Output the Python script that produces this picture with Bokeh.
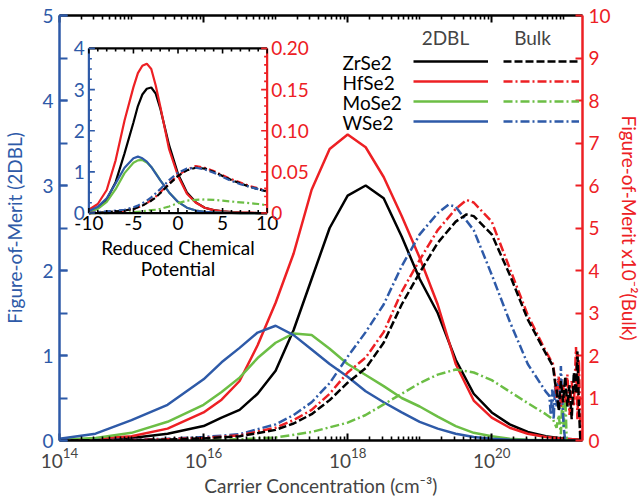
import math
from bokeh.plotting import figure
from bokeh.models import (Range1d, LinearAxis, LogAxis, FixedTicker, SingleIntervalTicker,
                          Legend, LegendItem, Label, LinearScale)
from bokeh.core.properties import value
from bokeh.embed import file_html
from bokeh.resources import INLINE

# ---------------- data: main panel (x = log10 carrier concentration, cm^-3) ----------------
# 2DBL (left axis)
logn_2d = [14.0, 14.5, 15.0, 15.5, 16.0, 16.25, 16.5, 16.75, 17.0, 17.25, 17.5, 17.75,
           18.0, 18.25, 18.5, 18.75, 19.0, 19.25, 19.5, 19.75, 20.0, 20.25, 20.5, 20.75,
           21.0, 21.25]
zrse2_2d = [0.0, 0.01, 0.03, 0.08, 0.17, 0.27, 0.36, 0.55, 0.82, 1.3, 1.9, 2.5,
            2.88, 3.0, 2.85, 2.4, 1.9, 1.5, 0.95, 0.55, 0.33, 0.19, 0.1, 0.05, 0.02, 0.01]
hfse2_2d = [0.0, 0.02, 0.05, 0.14, 0.33, 0.48, 0.70, 1.12, 1.62, 2.2, 2.95, 3.43,
            3.6, 3.45, 3.1, 2.64, 2.15, 1.6, 0.9, 0.47, 0.27, 0.15, 0.08, 0.04, 0.02, 0.01]
mose2_2d = [0.01, 0.03, 0.09, 0.22, 0.42, 0.57, 0.74, 0.97, 1.15, 1.26, 1.24, 1.08,
            0.9, 0.77, 0.64, 0.5, 0.4, 0.28, 0.17, 0.09, 0.05, 0.02, 0.01, 0.005, 0.002, 0.0]
wse2_2d = [0.02, 0.08, 0.24, 0.42, 0.72, 0.92, 1.09, 1.27, 1.35, 1.24, 1.07, 0.9,
           0.75, 0.58, 0.45, 0.33, 0.22, 0.14, 0.08, 0.04, 0.02, 0.01, 0.005, 0.002, 0.001, 0.0]

# Bulk (right axis, x10^-2)
zrse2_bulk_logn = [14.0, 14.5, 15.0, 15.5, 16.0, 16.5, 17.0, 17.25, 17.5, 17.75, 18.0, 18.25,
                   18.5, 18.75, 19.0, 19.25, 19.5, 19.65, 19.75, 20.0, 20.25, 20.5, 20.75,
                   20.85, 20.88, 20.9, 20.93, 20.96, 20.99, 21.02, 21.05, 21.08, 21.11,
                   21.14, 21.17, 21.19, 21.21, 21.23]
zrse2_bulk = [0.0, 0.005, 0.01, 0.02, 0.05, 0.1, 0.25, 0.4, 0.62, 0.95, 1.36, 1.7,
              2.3, 3.2, 3.95, 4.65, 5.15, 5.32, 5.28, 4.85, 3.9, 2.85, 2.05,
              1.75, 1.35, 1.2, 0.7, 1.4, 0.9, 1.5, 0.8, 1.3, 0.5,
              1.6, 1.1, 2.1, 0.8, 0.0]
hfse2_bulk_logn = [14.0, 14.5, 15.0, 15.5, 16.0, 16.5, 17.0, 17.25, 17.5, 17.75, 18.0, 18.25,
                   18.5, 18.75, 19.0, 19.25, 19.5, 19.65, 19.75, 20.0, 20.25, 20.5, 20.75,
                   20.85, 20.88, 20.9, 20.93, 20.96, 20.99, 21.02, 21.05, 21.08, 21.11,
                   21.14, 21.17, 21.19, 21.21, 21.23, 21.24]
hfse2_bulk = [0.0, 0.005, 0.01, 0.03, 0.06, 0.12, 0.3, 0.48, 0.72, 1.1, 1.6, 1.95,
              2.55, 3.5, 4.25, 4.95, 5.45, 5.66, 5.6, 5.15, 4.05, 2.95, 2.1,
              1.8, 1.45, 1.0, 1.5, 0.8, 1.3, 0.9, 1.55, 0.6, 1.4,
              0.8, 2.2, 0.5, 1.9, 0.3, 0.0]
mose2_bulk_logn = [14.0, 15.0, 16.0, 16.5, 17.0, 17.5, 18.0, 18.25, 18.5, 18.75, 19.0, 19.25,
                   19.5, 19.75, 20.0, 20.25, 20.5, 20.75, 20.85, 20.9, 20.93, 20.96, 20.98,
                   21.0, 21.02, 21.04]
mose2_bulk = [0.0, 0.0, 0.01, 0.03, 0.07, 0.2, 0.42, 0.6, 0.85, 1.1, 1.35, 1.55,
              1.67, 1.6, 1.42, 1.15, 0.88, 0.62, 0.5, 0.3, 0.6, 0.15, 1.0,
              0.3, 1.2, 0.0]
wse2_bulk_logn = [14.0, 14.5, 15.0, 15.5, 16.0, 16.5, 17.0, 17.25, 17.5, 17.75, 18.0, 18.25,
                  18.5, 18.75, 19.0, 19.25, 19.4, 19.5, 19.75, 20.0, 20.25, 20.5, 20.75,
                  20.8, 20.82, 20.84, 20.86, 20.88, 20.9, 20.92, 20.94, 20.96, 20.98,
                  21.0, 21.02]
wse2_bulk = [0.0, 0.01, 0.02, 0.04, 0.08, 0.15, 0.38, 0.6, 0.9, 1.35, 1.97, 2.55,
             3.2, 4.1, 4.85, 5.35, 5.55, 5.5, 4.95, 3.9, 2.8, 1.8, 1.15,
             1.05, 0.6, 1.2, 0.5, 1.3, 0.8, 1.45, 0.7, 1.75, 0.9,
             0.3, 0.0]

# ---------------- data: inset (reduced chemical potential) ----------------
eta = [-10, -9, -8, -7, -6, -5, -4.5, -4, -3.5, -3, -2.5, -2, -1, 0, 1, 2, 3, 4, 5, 6, 7, 8, 9, 10]
in_zrse2_2d = [0.05, 0.13, 0.33, 0.75, 1.45, 2.2, 2.6, 2.88, 3.02, 3.05, 2.9, 2.55, 1.65, 0.95,
               0.5, 0.26, 0.13, 0.07, 0.04, 0.02, 0.01, 0.005, 0.0, 0.0]
in_hfse2_2d = [0.08, 0.22, 0.56, 1.28, 2.25, 3.06, 3.4, 3.58, 3.63, 3.5, 3.1, 2.6, 1.55, 0.9,
               0.47, 0.25, 0.13, 0.07, 0.04, 0.02, 0.01, 0.01, 0.0, 0.0]
in_mose2_2d = [0.03, 0.1, 0.27, 0.58, 0.97, 1.22, 1.28, 1.29, 1.23, 1.12, 0.97, 0.8, 0.5, 0.27,
               0.13, 0.06, 0.03, 0.015, 0.01, 0.005, 0.0, 0.0, 0.0, 0.0]
in_wse2_2d = [0.05, 0.15, 0.36, 0.72, 1.1, 1.33, 1.37, 1.33, 1.25, 1.12, 0.96, 0.8, 0.5, 0.27,
              0.13, 0.06, 0.03, 0.015, 0.01, 0.005, 0.0, 0.0, 0.0, 0.0]
in_zrse2_bulk = [0.0, 0.0005, 0.001, 0.002, 0.003, 0.005, 0.007, 0.009, 0.012, 0.015, 0.019, 0.024,
                 0.035, 0.045, 0.052, 0.055, 0.054, 0.05, 0.045, 0.04, 0.036, 0.032, 0.029, 0.026]
in_hfse2_bulk = [0.0, 0.0005, 0.001, 0.002, 0.003, 0.005, 0.007, 0.009, 0.012, 0.016, 0.02, 0.025,
                 0.036, 0.046, 0.053, 0.057, 0.055, 0.051, 0.046, 0.041, 0.037, 0.033, 0.03, 0.027]
in_mose2_bulk = [0.0, 0.0, 0.0, 0.0003, 0.0005, 0.001, 0.0015, 0.002, 0.003, 0.0035, 0.004, 0.005,
                 0.008, 0.012, 0.015, 0.016, 0.0165, 0.016, 0.015, 0.014, 0.013, 0.012, 0.011, 0.0095]
in_wse2_bulk = [0.0, 0.001, 0.002, 0.003, 0.004, 0.007, 0.009, 0.012, 0.015, 0.019, 0.024, 0.029,
                0.04, 0.049, 0.054, 0.055, 0.053, 0.049, 0.044, 0.039, 0.035, 0.032, 0.029, 0.026]

# tick labels
main_major_exp = [14, 16, 18, 20]
inset_x_ticks = [-10, -5, 0, 5, 10]
inset_y_ticks = [0, 1, 2, 3, 4]
inset_y2_ticks = [0, 0.05, 0.10, 0.15, 0.20]
inset_y2_labels = ["0", "0.05", "0.10", "0.15", "0.20"]
names = ["ZrSe2", "HfSe2", "MoSe2", "WSe2"]

# ---------------- style / layout ----------------
BLUE = "#2E5AA8"
RED = "#ED2024"
GREEN = "#6CBE45"
BLACK = "#000000"
FONT = "Lato"
FS = "19px"
W, H = 643, 499
FL, FR, FT, FB = 58, 592, 15, 441          # main frame (px)
IL, IR, IT, IB = 88, 270, 48, 213          # inset frame (px)
XMAX_EXP = 21.26

def px_to_logx(px):
    return 14 + (px - FL) * (XMAX_EXP - 14) / (FR - FL)

def py_to_y(py):
    return (FB - py) * 5.0 / (FB - FT)

# inset ranges mapped onto the main frame
sx = (IR - IL) / 20.0
sy = (IB - IT) / 4.0
sy2 = (IB - IT) / 0.2
ix_range = Range1d(-10 - (IL - FL) / sx, 10 + (FR - IR) / sx)
iy_range = Range1d(-(FB - IB) / sy, 4 + (IT - FT) / sy)
iy2_range = Range1d(-(FB - IB) / sy2, 0.2 + (IT - FT) / sy2)

p = figure(width=W, height=H, x_axis_type="log",
           x_range=Range1d(1e14, 10 ** XMAX_EXP), y_range=Range1d(0, 5),
           output_backend="svg", toolbar_location=None,
           min_border_left=FL, min_border_right=W - FR, min_border_top=FT,
           min_border_bottom=H - FB)
p.extra_y_ranges = {"bulk": Range1d(0, 10), "iy": iy_range, "iy2": iy2_range}
p.extra_x_ranges = {"ix": ix_range}
p.extra_x_scales = {"ix": LinearScale()}
p.grid.visible = False
p.outline_line_color = None
p.background_fill_color = "white"
p.border_fill_color = "white"

major_ticks = [10.0 ** e for e in main_major_exp]
minor_ticks = [m * 10.0 ** k for k in range(14, 22) for m in range(1, 10)
               if m * 10.0 ** k not in major_ticks and m * 10.0 ** k <= 10 ** XMAX_EXP]

def style_x_axis(ax):
    ax.axis_line_width = 2.5
    ax.axis_line_color = BLACK
    ax.major_tick_line_color = BLACK
    ax.minor_tick_line_color = BLACK
    ax.major_tick_in = 7
    ax.major_tick_out = 0
    ax.minor_tick_in = 4
    ax.minor_tick_out = 0
    ax.major_tick_line_width = 2
    ax.minor_tick_line_width = 1.6

xb = p.below[0]
xb.ticker = FixedTicker(ticks=major_ticks, minor_ticks=minor_ticks)
style_x_axis(xb)
xb.major_label_text_font = FONT
xb.major_label_text_font_size = FS
xb.major_label_standoff = 7
xb.axis_label = "Carrier Concentration (cm\u207b\u00b3)"
xb.axis_label_text_font = FONT
xb.axis_label_text_font_size = FS
xb.axis_label_text_font_style = "normal"
xb.axis_label_standoff = 3

xt = LogAxis(ticker=FixedTicker(ticks=major_ticks, minor_ticks=minor_ticks))
style_x_axis(xt)
xt.major_label_text_font_size = "2px"
xt.major_label_text_alpha = 0
xt.major_label_standoff = 0
p.add_layout(xt, "above")

yl = p.left[0]
yl.ticker = SingleIntervalTicker(interval=1, num_minor_ticks=2)
yl.axis_line_width = 2.5
yl.axis_line_color = BLUE
yl.major_tick_line_color = BLUE
yl.minor_tick_line_color = BLUE
yl.major_tick_in = 8
yl.major_tick_out = 0
yl.minor_tick_in = 8
yl.minor_tick_out = 0
yl.major_tick_line_width = 2.2
yl.minor_tick_line_width = 2.2
yl.major_label_text_font = FONT
yl.major_label_text_font_size = FS
yl.major_label_text_color = BLUE
yl.major_label_standoff = 6
yl.axis_label = "Figure-of-Merit (2DBL)"
yl.axis_label_text_font = FONT
yl.axis_label_text_font_size = FS
yl.axis_label_text_font_style = "normal"
yl.axis_label_text_color = BLUE
yl.axis_label_standoff = 13

yr = LinearAxis(y_range_name="bulk", ticker=SingleIntervalTicker(interval=1))
yr.axis_line_width = 2.5
yr.axis_line_color = RED
yr.major_tick_line_color = RED
yr.minor_tick_line_color = None
yr.major_tick_in = 7
yr.major_tick_out = 0
yr.minor_tick_in = 0
yr.minor_tick_out = 0
yr.major_tick_line_width = 2.2
yr.major_label_text_font = FONT
yr.major_label_text_font_size = FS
yr.major_label_text_color = RED
yr.major_label_standoff = 6
yr.axis_label = "Figure-of-Merit x10\u207b\u00b2(Bulk)"
yr.axis_label_text_font = FONT
yr.axis_label_text_font_size = FS
yr.axis_label_text_font_style = "normal"
yr.axis_label_text_color = RED
yr.axis_label_standoff = 4
p.add_layout(yr, "right")

# ---------------- main curves ----------------
LW = 2.5
DASH = "8 3"
DASHDOT = "9 3 2 3"

def X(lst):
    return [10.0 ** v for v in lst]

r_zr = p.line(X(logn_2d), zrse2_2d, color=BLACK, line_width=LW)
r_hf = p.line(X(logn_2d), hfse2_2d, color=RED, line_width=LW)
r_mo = p.line(X(logn_2d), mose2_2d, color=GREEN, line_width=LW)
r_w = p.line(X(logn_2d), wse2_2d, color=BLUE, line_width=LW)

rb_mo = p.line(X(mose2_bulk_logn), mose2_bulk, color=GREEN, line_width=LW,
               line_dash=DASHDOT, y_range_name="bulk")
rb_w = p.line(X(wse2_bulk_logn), wse2_bulk, color=BLUE, line_width=LW,
              line_dash=DASHDOT, y_range_name="bulk")
rb_hf = p.line(X(hfse2_bulk_logn), hfse2_bulk, color=RED, line_width=LW,
               line_dash=DASHDOT, y_range_name="bulk")
rb_zr = p.line(X(zrse2_bulk_logn), zrse2_bulk, color=BLACK, line_width=LW,
               line_dash=DASH, y_range_name="bulk")

# ---------------- legend ----------------
legend_common = dict(spacing=0, padding=0, margin=0, glyph_height=20, label_height=20,
                     label_width=1, border_line_alpha=0, background_fill_alpha=0,
                     label_text_font=FONT, label_text_font_size="4px", label_standoff=0)
row_top = 52
row_centers = [row_top + 10 + 20 * i for i in range(4)]
leg_bottom_y = FB - (row_top + 20 * 4)
L2 = Legend(items=[LegendItem(label="\u00a0", renderers=[r]) for r in [r_zr, r_hf, r_mo, r_w]],
            location=(412 - FL, leg_bottom_y), glyph_width=75, **legend_common)
L3 = Legend(items=[LegendItem(label="\u00a0", renderers=[r]) for r in [rb_zr, rb_hf, rb_mo, rb_w]],
            location=(502 - FL, leg_bottom_y), glyph_width=76, **legend_common)
for L in (L2, L3):
    p.add_layout(L, "center")

p.text(x=[10 ** px_to_logx(347)] * 4, y=[py_to_y(c) for c in row_centers], text=names,
       text_align="left", text_baseline="middle", text_font=value(FONT), text_font_size=FS,
       color=BLACK)
for txt, cx in (("2DBL", 452), ("Bulk", 541)):
    p.add_layout(Label(x=10 ** px_to_logx(cx), y=py_to_y(37), text=txt, text_align="center",
                       text_baseline="middle", text_font=FONT, text_font_size=FS))

# ---------------- inset ----------------
IK = dict(x_range_name="ix", y_range_name="iy")
IK2 = dict(x_range_name="ix", y_range_name="iy2")
p.quad(left=[-10], right=[10], bottom=[0], top=[4], fill_color="white", line_color=None, **IK)

ILW = 2.2
p.line(eta, in_zrse2_2d, color=BLACK, line_width=ILW, **IK)
p.line(eta, in_hfse2_2d, color=RED, line_width=ILW, **IK)
p.line(eta, in_mose2_2d, color=GREEN, line_width=ILW, **IK)
p.line(eta, in_wse2_2d, color=BLUE, line_width=ILW, **IK)
p.line(eta, in_mose2_bulk, color=GREEN, line_width=ILW, line_dash="7 3 2 3", **IK2)
p.line(eta, in_hfse2_bulk, color=RED, line_width=ILW, line_dash="7 3 2 3", **IK2)
p.line(eta, in_zrse2_bulk, color=BLACK, line_width=ILW, line_dash="6 3", **IK2)
p.line(eta, in_wse2_bulk, color=BLUE, line_width=ILW, line_dash="7 3 2 3", **IK2)

# inset frame
p.segment(x0=[-10, -10], y0=[0, 4], x1=[10, 10], y1=[0, 4], color=BLACK, line_width=2.2, **IK)
p.segment(x0=[-10], y0=[0], x1=[-10], y1=[4], color=BLUE, line_width=2.2, **IK)
p.segment(x0=[10], y0=[0], x1=[10], y1=[4], color=RED, line_width=2.2, **IK)

# inset ticks
xt_minor = [v for v in range(-10, 11)]
p.ray(x=xt_minor, y=[0] * len(xt_minor), length=[5 if v % 5 == 0 else 3 for v in xt_minor],
      angle=math.pi / 2, length_units="screen", color=BLACK, line_width=1.6, **IK)
p.ray(x=xt_minor, y=[4] * len(xt_minor), length=[5 if v % 5 == 0 else 3 for v in xt_minor],
      angle=-math.pi / 2, length_units="screen", color=BLACK, line_width=1.6, **IK)
yl_minor = [k * 0.25 for k in range(0, 17)]
p.ray(x=[-10] * len(yl_minor), y=yl_minor, length=[6 if k % 4 == 0 else 3 for k in range(17)],
      angle=0, length_units="screen", color=BLUE, line_width=1.6, **IK)
yr_minor = [k * 0.01 for k in range(0, 21)]
p.ray(x=[10] * len(yr_minor), y=yr_minor, length=[6 if k % 5 == 0 else 3 for k in range(21)],
      angle=math.pi, length_units="screen", color=RED, line_width=1.6, **IK2)

# inset tick labels
tk = dict(text_font=value(FONT), text_font_size=FS)
p.text(x=inset_x_ticks, y=[0] * 5, text=[str(v) for v in inset_x_ticks], text_align="center",
       text_baseline="top", y_offset=3, color=BLACK, **tk, **IK)
p.text(x=[-10] * 5, y=inset_y_ticks, text=[str(v) for v in inset_y_ticks], text_align="right",
       text_baseline="middle", x_offset=-4, color=BLUE, **tk, **IK)
p.text(x=[10] * 5, y=inset_y2_ticks, text=inset_y2_labels, text_align="left",
       text_baseline="middle", x_offset=4, color=RED, **tk, **IK2)
p.text(x=[0, 0], y=[0, 0], text=["Reduced Chemical", "Potential"], text_align="center",
       text_baseline="middle", y_offset=[34, 55], color=BLACK, **tk, **IK)

open("out.html", "w").write(file_html(p, INLINE))
